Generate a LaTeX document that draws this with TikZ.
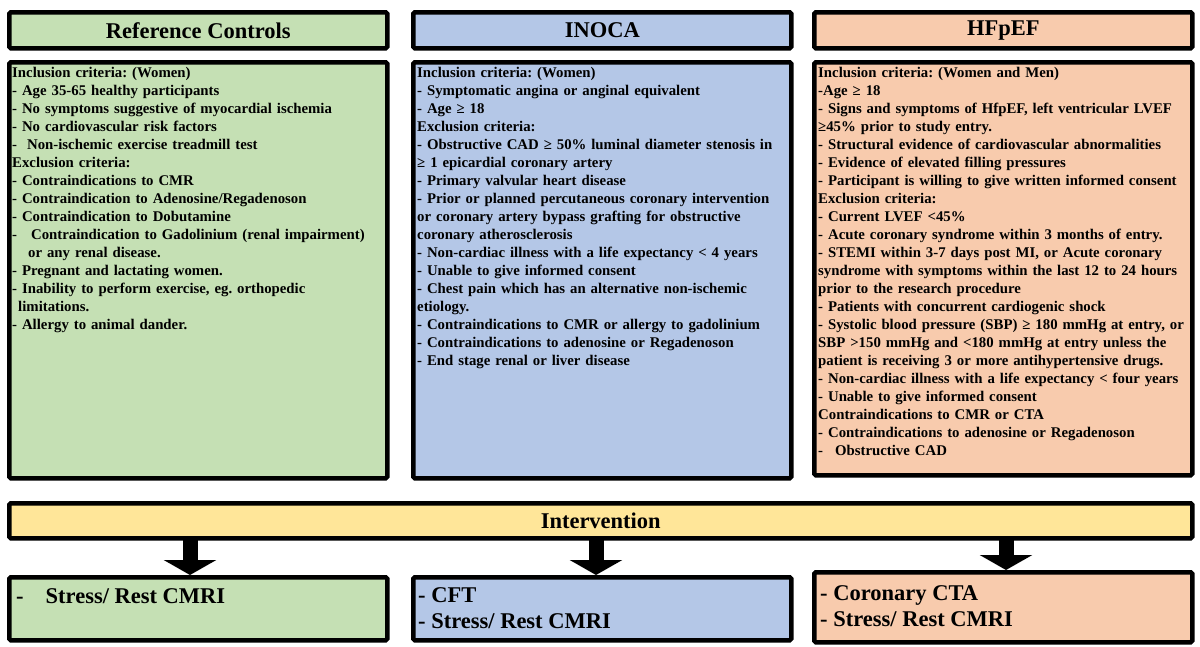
\documentclass[tikz,border=0pt]{standalone}
\usepackage{fontspec}
\setmainfont{Liberation Serif}
\usetikzlibrary{arrows.meta}
\definecolor{cg}{HTML}{C5E0B4}
\definecolor{cb}{HTML}{B4C7E7}
\definecolor{cp}{HTML}{F8CBAD}
\definecolor{cy}{HTML}{FFE699}
\frenchspacing
\begin{document}
\begin{tikzpicture}[x=1pt,y=-1pt,
 box/.style={draw=black,line width=4.5pt,rounded corners=1.5pt,minimum width=378pt,anchor=north west,inner sep=0pt},
 hdr/.style={box,minimum height=36pt,font=\bfseries\fontsize{22.5}{26}\selectfont},
 body/.style={box,minimum height=416pt},
 txt/.style={anchor=north west,align=left,text width=378pt,inner sep=0pt,font=\bfseries\fontsize{14.8}{18}\selectfont},
 bot/.style={box,minimum height=63pt},
 btxt/.style={anchor=west,align=left,inner sep=0pt,font=\bfseries\fontsize{22.5}{26}\selectfont},
 arr/.style={line width=15pt,-{Triangle[width=52pt,length=15pt]}}]
\useasboundingbox (0,0) rectangle (1200,646);
\fill[white] (0,0) rectangle (1200,646);
\node[hdr,fill=cg] (h1) at (7,10) {Reference Controls};
\node[hdr,fill=cb] (h2) at (411,10) {INOCA};
\node[hdr,fill=cp] (h3) at (812,10) {HFpEF};
\node[body,fill=cg] (b1) at (7,60) {};
\node[body,fill=cb] (b2) at (411,60) {};
\node[body,fill=cp,minimum height=413pt] (b3) at (812,60) {};
\node[txt] (t1) at (12,67) {Inclusion criteria: (Women)\\
- Age 35-65 healthy participants\\
- No symptoms suggestive of myocardial ischemia\\
- No cardiovascular risk factors\\
-\hspace{10pt}Non-ischemic exercise treadmill test\\
Exclusion criteria:\\
- Contraindications to CMR\\
- Contraindication to Adenosine/Regadenoson\\
- Contraindication to Dobutamine\\
-\hspace{14pt}Contraindication to Gadolinium (renal impairment)\\
\hspace{16pt}or any renal disease.\\
- Pregnant and lactating women.\\
- Inability to perform exercise, eg. orthopedic\\
\hspace{6pt}limitations.\\
- Allergy to animal dander.};
\node[txt] (t2) at (417,67) {Inclusion criteria: (Women)\\
- Symptomatic angina or anginal equivalent\\
- Age ≥ 18\\
Exclusion criteria:\\
- Obstructive CAD ≥ 50\% luminal diameter stenosis in\\
≥ 1 epicardial coronary artery\\
- Primary valvular heart disease\\
- Prior or planned percutaneous coronary intervention\\
or coronary artery bypass grafting for obstructive\\
coronary atherosclerosis\\
- Non-cardiac illness with a life expectancy < 4 years\\
- Unable to give informed consent\\
- Chest pain which has an alternative non-ischemic\\
etiology.\\
- Contraindications to CMR or allergy to gadolinium\\
- Contraindications to adenosine or Regadenoson\\
- End stage renal or liver disease};
\node[txt] (t3) at (818,67) {Inclusion criteria: (Women and Men)\\
-Age ≥ 18\\
- Signs and symptoms of HfpEF, left ventricular LVEF\\
≥45\% prior to study entry.\\
- Structural evidence of cardiovascular abnormalities\\
- Evidence of elevated filling pressures\\
- Participant is willing to give written informed consent\\
Exclusion criteria:\\
- Current LVEF <45\%\\
- Acute coronary syndrome within 3 months of entry.\\
- STEMI within 3-7 days post MI, or Acute coronary\\
syndrome with symptoms within the last 12 to 24 hours\\
prior to the research procedure\\
- Patients with concurrent cardiogenic shock\\
- Systolic blood pressure (SBP) ≥ 180 mmHg at entry, or\\
SBP >150 mmHg and <180 mmHg at entry unless the\\
patient is receiving 3 or more antihypertensive drugs.\\
- Non-cardiac illness with a life expectancy < four years\\
- Unable to give informed consent\\
Contraindications to CMR or CTA\\
- Contraindications to adenosine or Regadenoson\\
-\hspace{12pt}Obstructive CAD};
\node[box,fill=cy,minimum width=1183pt,minimum height=35pt,font=\bfseries\fontsize{22.5}{26}\selectfont] (iv) at (7,501) {Intervention};
\node[bot,fill=cg] (o1) at (7,575) {};
\node[bot,fill=cb] (o2) at (411,575) {};
\node[bot,fill=cp,minimum height=70pt] (o3) at (812,570) {};
\node[btxt] at (16,596) {-\hspace{22pt}Stress/ Rest CMRI};
\node[btxt] at (418,608) {- CFT\\- Stress/ Rest CMRI};
\node[btxt] at (820,606) {- Coronary CTA\\- Stress/ Rest CMRI};
\coordinate (a1) at (190,539); \coordinate (a2) at (596,539); \coordinate (a3) at (1006,539);
\draw[arr] (a1) -- (a1 |- o1.north);
\draw[arr] (a2) -- (a2 |- o2.north);
\draw[arr] (a3) -- (a3 |- o3.north);
\end{tikzpicture}
\end{document}
